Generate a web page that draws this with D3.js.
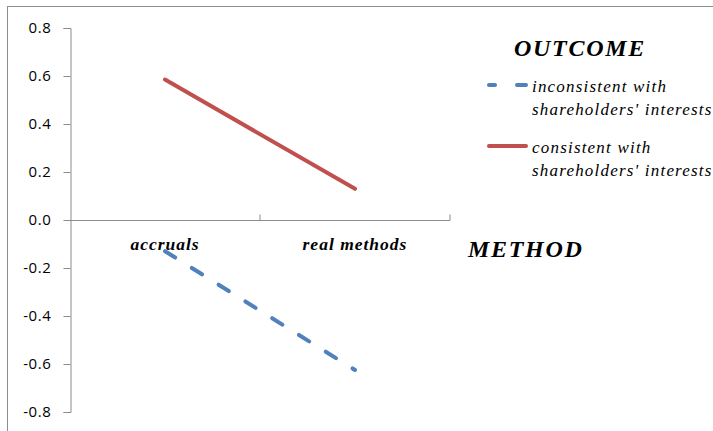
<!DOCTYPE html>
<html><head><meta charset="utf-8">
<script src="https://cdn.jsdelivr.net/npm/d3@7"></script>
<style>body{margin:0;background:#fff}svg{display:block}
.serif{font-family:'Liberation Serif','Times New Roman',serif}
</style>
</head><body>
<svg id="c" width="713" height="431"></svg>
<script>
const categories = ["accruals", "real methods"];
const seriesNames = ["inconsistent with shareholders' interests", "consistent with shareholders' interests"];
const inconsistentValues = [-0.13, -0.625];
const consistentValues = [0.585, 0.13];
const yTicks = [0.8, 0.6, 0.4, 0.2, 0.0, -0.2, -0.4, -0.6, -0.8];

const svg = d3.select("#c");
// frame
svg.append("rect").attr("x", 7.5).attr("y", 6.5).attr("width", 720).attr("height", 440)
  .attr("fill", "none").attr("stroke", "#8c8c8c").attr("stroke-width", 1);

const y = d3.scaleLinear().domain([-0.8, 0.8]).range([412, 28]);
const x = d3.scaleBand().domain(categories).range([70, 450]);

const fmt = d => d.toFixed(1);

// y axis
const yAxis = d3.axisLeft(y).tickValues(yTicks).tickFormat(fmt).tickSize(7).tickPadding(12);
const gy = svg.append("g").attr("transform", "translate(70.5,0)").call(yAxis);
gy.select(".domain").attr("stroke", "#8c8c8c");
gy.selectAll(".tick line").attr("stroke", "#8c8c8c");
gy.selectAll(".tick text").style("font-family", "'Open Sans', sans-serif").style("font-size", "15px")
  .style("letter-spacing", "0.6px").attr("fill", "#000");

// x axis at zero
const xAxis = d3.axisTop(x).tickSize(0).tickFormat("");
const gx = svg.append("g").attr("transform", `translate(0,${Math.round(y(0)) + 0.5})`).call(xAxis);
gx.select(".domain").attr("stroke", "#8c8c8c").attr("d", `M70,0H${450}`);
gx.selectAll(".tick").remove();
gx.selectAll(".div").data(categories.slice(1)).enter().append("line")
  .attr("x1", d => x(d)).attr("x2", d => x(d)).attr("y1", -6).attr("y2", 0).attr("stroke", "#8c8c8c");
gx.append("line").attr("x1", 450).attr("x2", 450).attr("y1", -6).attr("y2", 0).attr("stroke", "#8c8c8c");

// category labels
svg.selectAll(".cat").data(categories).enter().append("text").attr("class", "serif")
  .attr("x", d => x(d) + x.bandwidth() / 2).attr("y", 250)
  .attr("text-anchor", "middle")
  .style("font-style", "italic").style("font-weight", "bold").style("font-size", "17.5px")
  .style("letter-spacing", "1px").text(d => d);

const line = d3.line().x((d, i) => x(categories[i]) + x.bandwidth() / 2).y(d => y(d));

svg.append("path").datum(consistentValues).attr("d", line).attr("fill", "none")
  .attr("stroke", "#c0504d").attr("stroke-width", 4).attr("stroke-linecap", "round");
svg.append("path").datum(inconsistentValues).attr("d", line).attr("fill", "none")
  .attr("stroke", "#4f81bd").attr("stroke-width", 4).attr("stroke-linecap", "round")
  .attr("stroke-dasharray", "12,19.6");

// titles
svg.append("text").attr("class", "serif").attr("x", 468).attr("y", 257)
  .style("font-style", "italic").style("font-weight", "bold").style("font-size", "24px")
  .style("letter-spacing", "1.7px").text("METHOD");
svg.append("text").attr("class", "serif").attr("x", 514).attr("y", 56)
  .style("font-style", "italic").style("font-weight", "bold").style("font-size", "24px")
  .style("letter-spacing", "1.7px").text("OUTCOME");

// legend
const legend = [
  {name: seriesNames[0], color: "#4f81bd", dash: true, y: 85, lines: ["inconsistent with", "shareholders' interests"]},
  {name: seriesNames[1], color: "#c0504d", dash: false, y: 146, lines: ["consistent with", "shareholders' interests"]}
];
legend.forEach(l => {
  svg.append("line").attr("x1", 489).attr("x2", 526).attr("y1", l.y).attr("y2", l.y)
    .attr("stroke", l.color).attr("stroke-width", 4).attr("stroke-linecap", "round")
    .attr("stroke-dasharray", l.dash ? "6,22,9,22" : null);
  const t = svg.append("text").attr("class", "serif")
    .style("font-style", "italic").style("font-size", "17px").style("letter-spacing", "1.2px").attr("fill", "#000");
  l.lines.forEach((s, i) => t.append("tspan").attr("x", 532).attr("y", l.y + 7 + i * 23).text(s));
});
</script>
</body></html>
